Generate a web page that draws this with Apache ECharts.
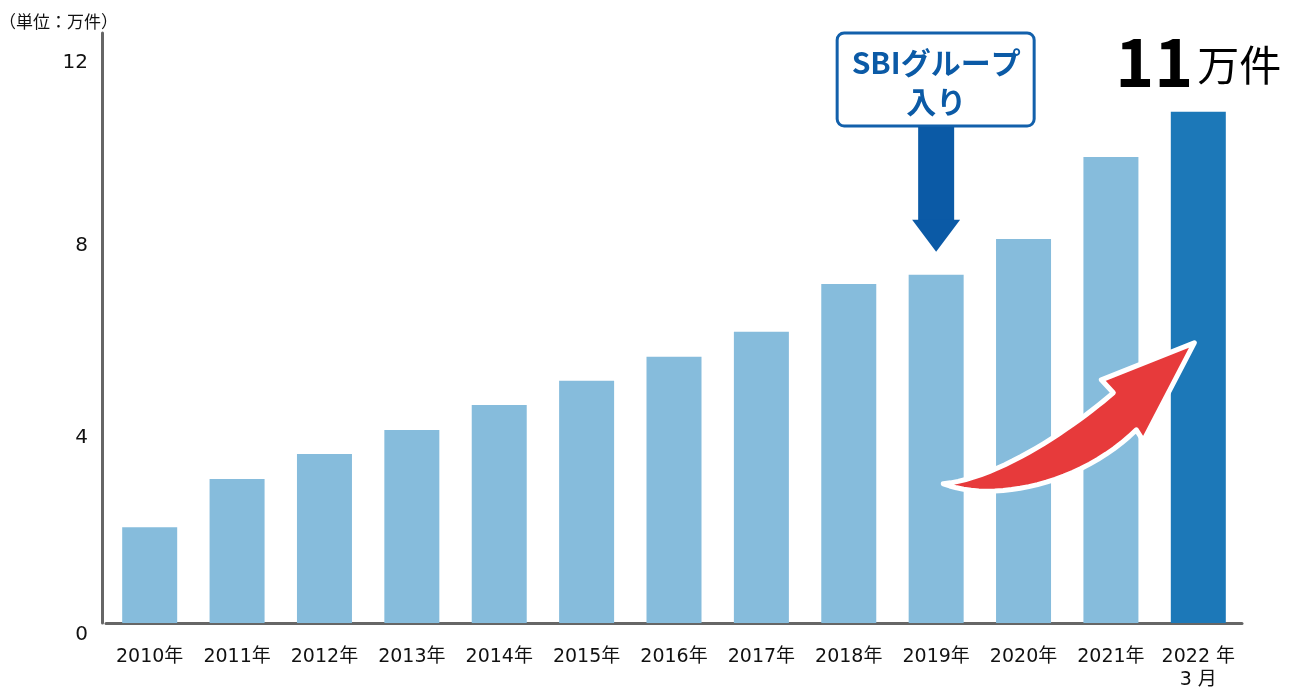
<!DOCTYPE html>
<html>
<head>
<meta charset="utf-8">
<script src="https://cdn.jsdelivr.net/npm/echarts@6/dist/echarts.min.js"></script>
<style>
html,body{margin:0;padding:0;background:#fff;}
#report{width:1298px;height:693px;}
</style>
</head>
<body>
<div id="report"></div>
<script>
// 件数（万件）
var years = ['2010年','2011年','2012年','2013年','2014年','2015年','2016年','2017年','2018年','2019年','2020年','2021年','2022 年\n3 月'];
var counts = [2.07, 3.11, 3.65, 4.17, 4.71, 5.23, 5.75, 6.29, 7.32, 7.52, 8.29, 10.06, 11.04];
var yTicks = [0, 4, 8, 12];
var unitText = '（単位：万件）';
var calloutText = 'SBIグループ\n入り';
var joinIndex = 9;      // SBIグループ入り
var lastIndex = 12;     // 2022年3月

var font = 'Noto Sans CJK JP';
var numFont = '"DejaVu Sans", "Noto Sans CJK JP"';
var lightBlue = '#86bcdc';
var darkBlue = '#1c78b8';
var arrowBlue = '#0b5aa6';

var barData = [];
for (var i = 0; i < counts.length; i++) {
	var item = {value: counts[i]};
	if (i == lastIndex) {
		item.itemStyle = {color: darkBlue};
		item.label = {
			show: true,
			position: 'top',
			distance: 14,
			formatter: '{n|11}{u|万件}',
			rich: {
				n: {fontFamily: font, fontSize: 66, fontWeight: 'bold', color: '#000', lineHeight: 72, verticalAlign: 'middle'},
				u: {fontFamily: font, fontSize: 42, color: '#000', lineHeight: 72, verticalAlign: 'middle', padding: [6, 0, 0, 4]}
			}
		};
	}
	barData.push(item);
}

// 3次ベジェを折れ線に（赤い矢印の輪郭用）
function bez(p0, c1, c2, p1, n) {
	var pts = [];
	for (var k = 1; k <= n; k++) {
		var t = k / n, u = 1 - t;
		pts.push([
			u*u*u*p0[0] + 3*u*u*t*c1[0] + 3*u*t*t*c2[0] + t*t*t*p1[0],
			u*u*u*p0[1] + 3*u*u*t*c1[1] + 3*u*t*t*c2[1] + t*t*t*p1[1]
		]);
	}
	return pts;
}

var myChart = echarts.init(document.getElementById('report'));
var option = {
	animation: false,
	title: {
		text: unitText,
		left: -6,
		top: 8,
		textStyle: {fontFamily: font, fontSize: 17, fontWeight: 'normal', color: '#111'}
	},
	grid: {left: 106, right: 56, top: 33, bottom: 70},
	xAxis: {
		type: 'category',
		data: years,
		axisLine: {show: true, lineStyle: {color: '#666', width: 3}},
		axisTick: {show: false},
		axisLabel: {fontFamily: numFont, fontSize: 19, color: '#111', margin: 23, lineHeight: 23, interval: 0}
	},
	yAxis: {
		type: 'value',
		min: 0,
		max: 12.74,
		interval: 4,
		offset: 4,
		axisLine: {show: true, lineStyle: {color: '#666', width: 3}},
		axisTick: {show: false},
		splitLine: {show: false},
		axisLabel: {
			margin: 14,
			formatter: function (v) {
				if (yTicks.indexOf(v) < 0) return '';
				return '{t' + v + '|' + v + '}';
			},
			rich: {
				t0: {fontFamily: numFont, fontSize: 20, color: '#111', padding: [24, 0, 0, 0]},
				t4: {fontFamily: numFont, fontSize: 20, color: '#111'},
				t8: {fontFamily: numFont, fontSize: 20, color: '#111', padding: [0, 0, 14, 0]},
				t12: {fontFamily: numFont, fontSize: 20, color: '#111', padding: [0, 0, 8, 0]}
			}
		}
	},
	series: [{
		type: 'bar',
		data: barData,
		barWidth: 55,
		itemStyle: {color: lightBlue}
	}]
};
myChart.setOption(option);

// 吹き出し・矢印（軸の座標から位置を取る）
var pJoin = myChart.convertToPixel({seriesIndex: 0}, [joinIndex, counts[joinIndex]]);
var pTop = myChart.convertToPixel({seriesIndex: 0}, [joinIndex, 12.74]);
var pUp = myChart.convertToPixel({seriesIndex: 0}, [lastIndex, 6.05]);

var boxTop = pTop[1];
var boxH = 93;
var tipY = pJoin[1] - 23;
var headH = 32;

// 赤い矢印（2022年の棒の中央を基準にした相対座標）
var redPts = [[-4, 0], [-97, 37], [-85, 50]];
redPts = redPts.concat(bez([-85, 50], [-122, 82], [-197, 135], [-255, 141], 24));
redPts = redPts.concat(bez([-255, 141], [-205, 160], [-118, 142], [-62, 87], 24));
redPts.push([-55, 98]);

myChart.setOption({
	graphic: [
		{
			type: 'rect', z: 100,
			shape: {x: pJoin[0] - 99, y: boxTop, width: 197, height: boxH, r: 7},
			style: {fill: '#fff', stroke: '#1260ab', lineWidth: 3}
		},
		{
			type: 'text', z: 101,
			x: pJoin[0], y: boxTop + boxH / 2 + 3,
			style: {
				text: calloutText, fill: arrowBlue, fontFamily: font, fontSize: 30, fontWeight: 'bold',
				lineHeight: 39, align: 'center', verticalAlign: 'middle'
			}
		},
		{
			type: 'rect', z: 100,
			shape: {x: pJoin[0] - 18, y: boxTop + boxH + 1, width: 36, height: tipY - headH - (boxTop + boxH + 1) + 1},
			style: {fill: arrowBlue}
		},
		{
			type: 'polygon', z: 100,
			shape: {points: [[pJoin[0] - 24, tipY - headH], [pJoin[0] + 24, tipY - headH], [pJoin[0], tipY]]},
			style: {fill: arrowBlue}
		},
		{
			type: 'polygon', z: 100,
			x: pUp[0], y: pUp[1],
			shape: {points: redPts},
			style: {fill: '#e73a3b', stroke: '#fff', lineWidth: 5, lineJoin: 'round'}
		}
	]
});
</script>
</body>
</html>
